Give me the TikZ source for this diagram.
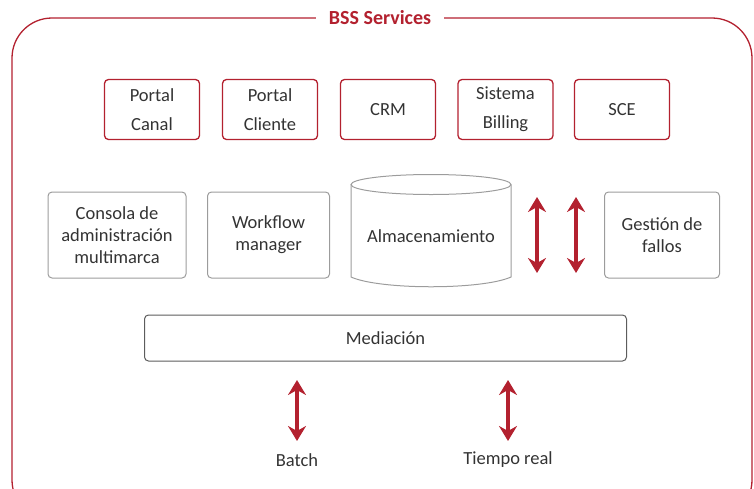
\documentclass[tikz,border=0pt]{standalone}
\usepackage{fontspec}
\setmainfont{Carlito}
\usetikzlibrary{arrows.meta}
\definecolor{bssred}{HTML}{B3212F}
\definecolor{txtgray}{HTML}{333333}
\definecolor{boxgray}{HTML}{9C9C9C}
\tikzset{topbox/.style = {draw=bssred, line width=1.3, rounded corners=4,
                          minimum width=95, minimum height=60, align=center,
                          text=txtgray, font=\fontsize{18.5}{29}\selectfont}}
\tikzset{midbox/.style = {draw=boxgray, line width=1, rounded corners=4,
                          minimum height=86, align=center,
                          text=txtgray, font=\fontsize{18.5}{22}\selectfont}}
\tikzset{lbl/.style = {text=txtgray, font=\fontsize{18.5}{22}\selectfont}}
\tikzset{dbl/.style = {bssred, line width=4.5,
                       {Stealth[length=15pt,width=18pt,inset=5pt]}-{Stealth[length=15pt,width=18pt,inset=5pt]}}}

\begin{document}
\begin{tikzpicture}[x=1pt, y=-1pt]
      \useasboundingbox (0, 0) rectangle (754, 488);
      \clip (0, 0) rectangle (754, 488);

      % outer frame
      \draw [bssred, line width=1.3, rounded corners=40] (12, 520) rectangle (752, 18);
      \node [fill=white, inner xsep=13, text=bssred,
             font=\bfseries\fontsize{20}{22}\selectfont] (title) at (380, 18) {BSS Services};

      % top row
      \foreach \x/\name/\txt in {152/canal/{Portal\\Canal}, 270/cliente/{Portal\\Cliente},
                                 388/crm/CRM, 505.5/billing/{Sistema\\Billing}, 622/sce/SCE} {
        \node [topbox] (\name) at (\x, 109.5) {\txt};
      }

      % middle row
      \node [midbox, minimum width=138] (consola) at (117, 235)
            {Consola de\\administración\\multimarca};
      \node [midbox, minimum width=122] (workflow) at (268.5, 235) {Workflow\\manager};
      \node [midbox, minimum width=115] (fallos) at (662, 235) {Gestión de\\fallos};

      \draw [boxgray, line width=1] (431, 184.5) ellipse [x radius=80, y radius=10];
      \draw [boxgray, line width=1] (351, 184.5) -- (351, 277)
            .. controls (380, 290) and (482, 290) .. (511, 277) -- (511, 184.5);
      \node [lbl] (alm) at (431, 236) {Almacenamiento};

      \coordinate (a1t) at (537, 197);
      \coordinate (a1b) at (537, 273);
      \coordinate (a2t) at (576, 197);
      \coordinate (a2b) at (576, 273);
      \draw [dbl] (a1t) -- (a1b);
      \draw [dbl] (a2t) -- (a2b);

      % mediation
      \node [draw=txtgray!80, line width=1, rounded corners=4, minimum width=482,
             minimum height=46, lbl] (med) at (385.5, 338) {Mediación};

      \node [lbl] (batch) at (297, 460) {Batch};
      \node [lbl] (treal) at (508, 460) {Tiempo real};
      \coordinate (b1t) at (297, 380);
      \coordinate (b1b) at (297, 441);
      \coordinate (b2t) at (508, 380);
      \coordinate (b2b) at (508, 441);
      \draw [dbl] (b1t) -- (b1b);
      \draw [dbl] (b2t) -- (b2b);
    \end{tikzpicture}
\end{document}
